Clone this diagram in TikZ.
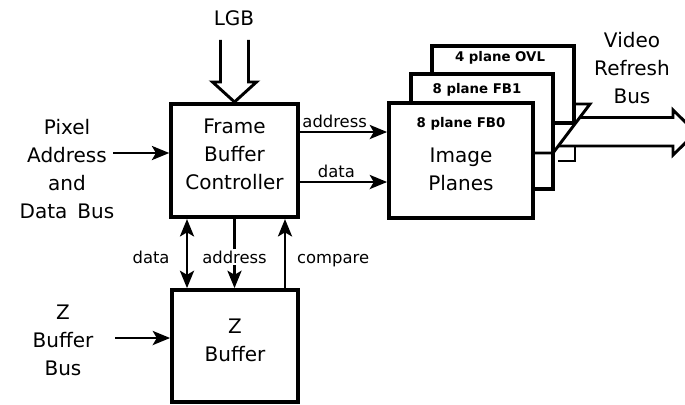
\documentclass[tikz,border=0pt]{standalone}
\usepackage{fontspec}
\setmainfont{DejaVu Sans}
\usetikzlibrary{arrows.meta,calc,positioning}
\newcommand{\bigfont}{\fontsize{15}{21}\selectfont}
\newcommand{\lblfont}{\fontsize{12.3}{14}\selectfont}
\newcommand{\tagfont}{\fontsize{10}{12}\selectfont\bfseries}
\tikzset{
  blk/.style={draw, line width=2.8pt, fill=white, align=center, font=\bigfont, inner sep=0pt},
  ctlblk/.style={blk, minimum width=95pt, minimum height=85pt, text depth=9pt},
  planeblk/.style={blk, minimum width=106.5pt},
  ptag/.style={font=\tagfont, anchor=center, inner sep=0pt},
  busname/.style={font=\bigfont, align=center, inner sep=0pt},
  sig/.style={font=\lblfont, inner sep=2pt},
  bus/.style={-{Stealth[length=13pt, width=10.5pt, inset=3pt]}, line width=2.2pt},
  bibus/.style={{Stealth[length=13pt, width=10.5pt, inset=3pt]}-{Stealth[length=13pt, width=10.5pt, inset=3pt]}, line width=2.2pt},
  hollow/.style={line width=2.2pt, line join=miter},
}

\begin{document}
\begin{tikzpicture}[x=0.75pt, y=-0.75pt]
  \useasboundingbox (0,0) rectangle (685,404);
  \clip (0,0) rectangle (685,404);

  % ---- controller and z buffer ------------------------------------------
  \node[ctlblk] (fbc) at (234.5,160.5) {Frame\\Buffer\\Controller};
  \node[ctlblk, minimum width=94.5pt, minimum height=84pt] (zbuf) at (235,346) {Z\\Buffer};

  % ---- the three planes, back to front ----------------------------------
  \node[planeblk, minimum height=57.75pt,
        label={[ptag, yshift=-10pt, xshift=-2.25pt]north:4 plane OVL}] (ovl) at (503,84.5) {};
  \node[planeblk, minimum height=86.25pt,
        label={[ptag, yshift=-13pt, xshift=-3.75pt]north:8 plane FB1}] (fb1) at (482,131.5) {};
  \node[planeblk, minimum width=108pt, minimum height=86.25pt, text depth=9.5pt] (fb0) at (461,160.5)
    {{\tagfont 8 plane FB0}\\[4.9pt]Image\\Planes};

  % ---- video refresh bus, coming out from behind the planes -------------
  \draw[hollow] (533,153) -- (553,153) -- (590,104) -- (574,104);
  \draw[hollow] (579.8,117.5) -- (673,117.5) -- (673,110) -- (696,132.5)
                -- (673,155) -- (673,146) -- (558.3,146);
  \draw[hollow] (558,161) -- (575,161) -- (575,146);
  \node[busname] (vrb) at (632,68) {Video\\Refresh\\Bus};

  % ---- LGB from above ----------------------------------------------------
  \node[busname] (lgb) at (234,18) {LGB};
  \draw[hollow] ($(fbc.north)+(-14,-62)$) -- ++(0,42) -- ++(-8,0) -- (fbc.north)
                -- ++(22,-20) -- ++(-8,0) -- ++(0,-42);

  % ---- inputs on the left ------------------------------------------------
  \node[busname] (pix) at (67,169.5) {Pixel\\Address\\and\\Data\enspace Bus};
  \coordinate (pixin) at (113,153);
  \draw[bus] (pixin) -- (pixin -| fbc.west);
  \node[busname] (zbus) at (63,340) {Z\\Buffer\\Bus};
  \coordinate (zin) at (115,338);
  \draw[bus] (zin) -- (zin -| zbuf.west);

  % ---- controller to the planes -------------------------------------------
  \path (fbc.east) ++(0,-28.5) coordinate (fa) ++(0,50) coordinate (fd);
  \draw[bus] (fa) -- (fa -| fb0.west) node[sig, pos=0.4, above] {address};
  \draw[bus] (fd) -- (fd -| fb0.west) node[sig, pos=0.42, above] {data};

  % ---- controller and z buffer links --------------------------------------
  \path (fbc.south) ++(-47.5,0) coordinate (zd);
  \path (zbuf.north) ++(50,0) coordinate (zc);
  \draw[bibus] (zd) -- (zd |- zbuf.north) node[sig, pos=0.55, left=10pt] {data};
  \draw[bus] (fbc.south) -- (fbc.south |- zbuf.north)
    node[sig, pos=0.55, fill=white, inner sep=1pt] {address};
  \draw[bus] (zc) -- (zc |- fbc.south) node[sig, pos=0.4, right=6pt] {compare};
\end{tikzpicture}
\end{document}
